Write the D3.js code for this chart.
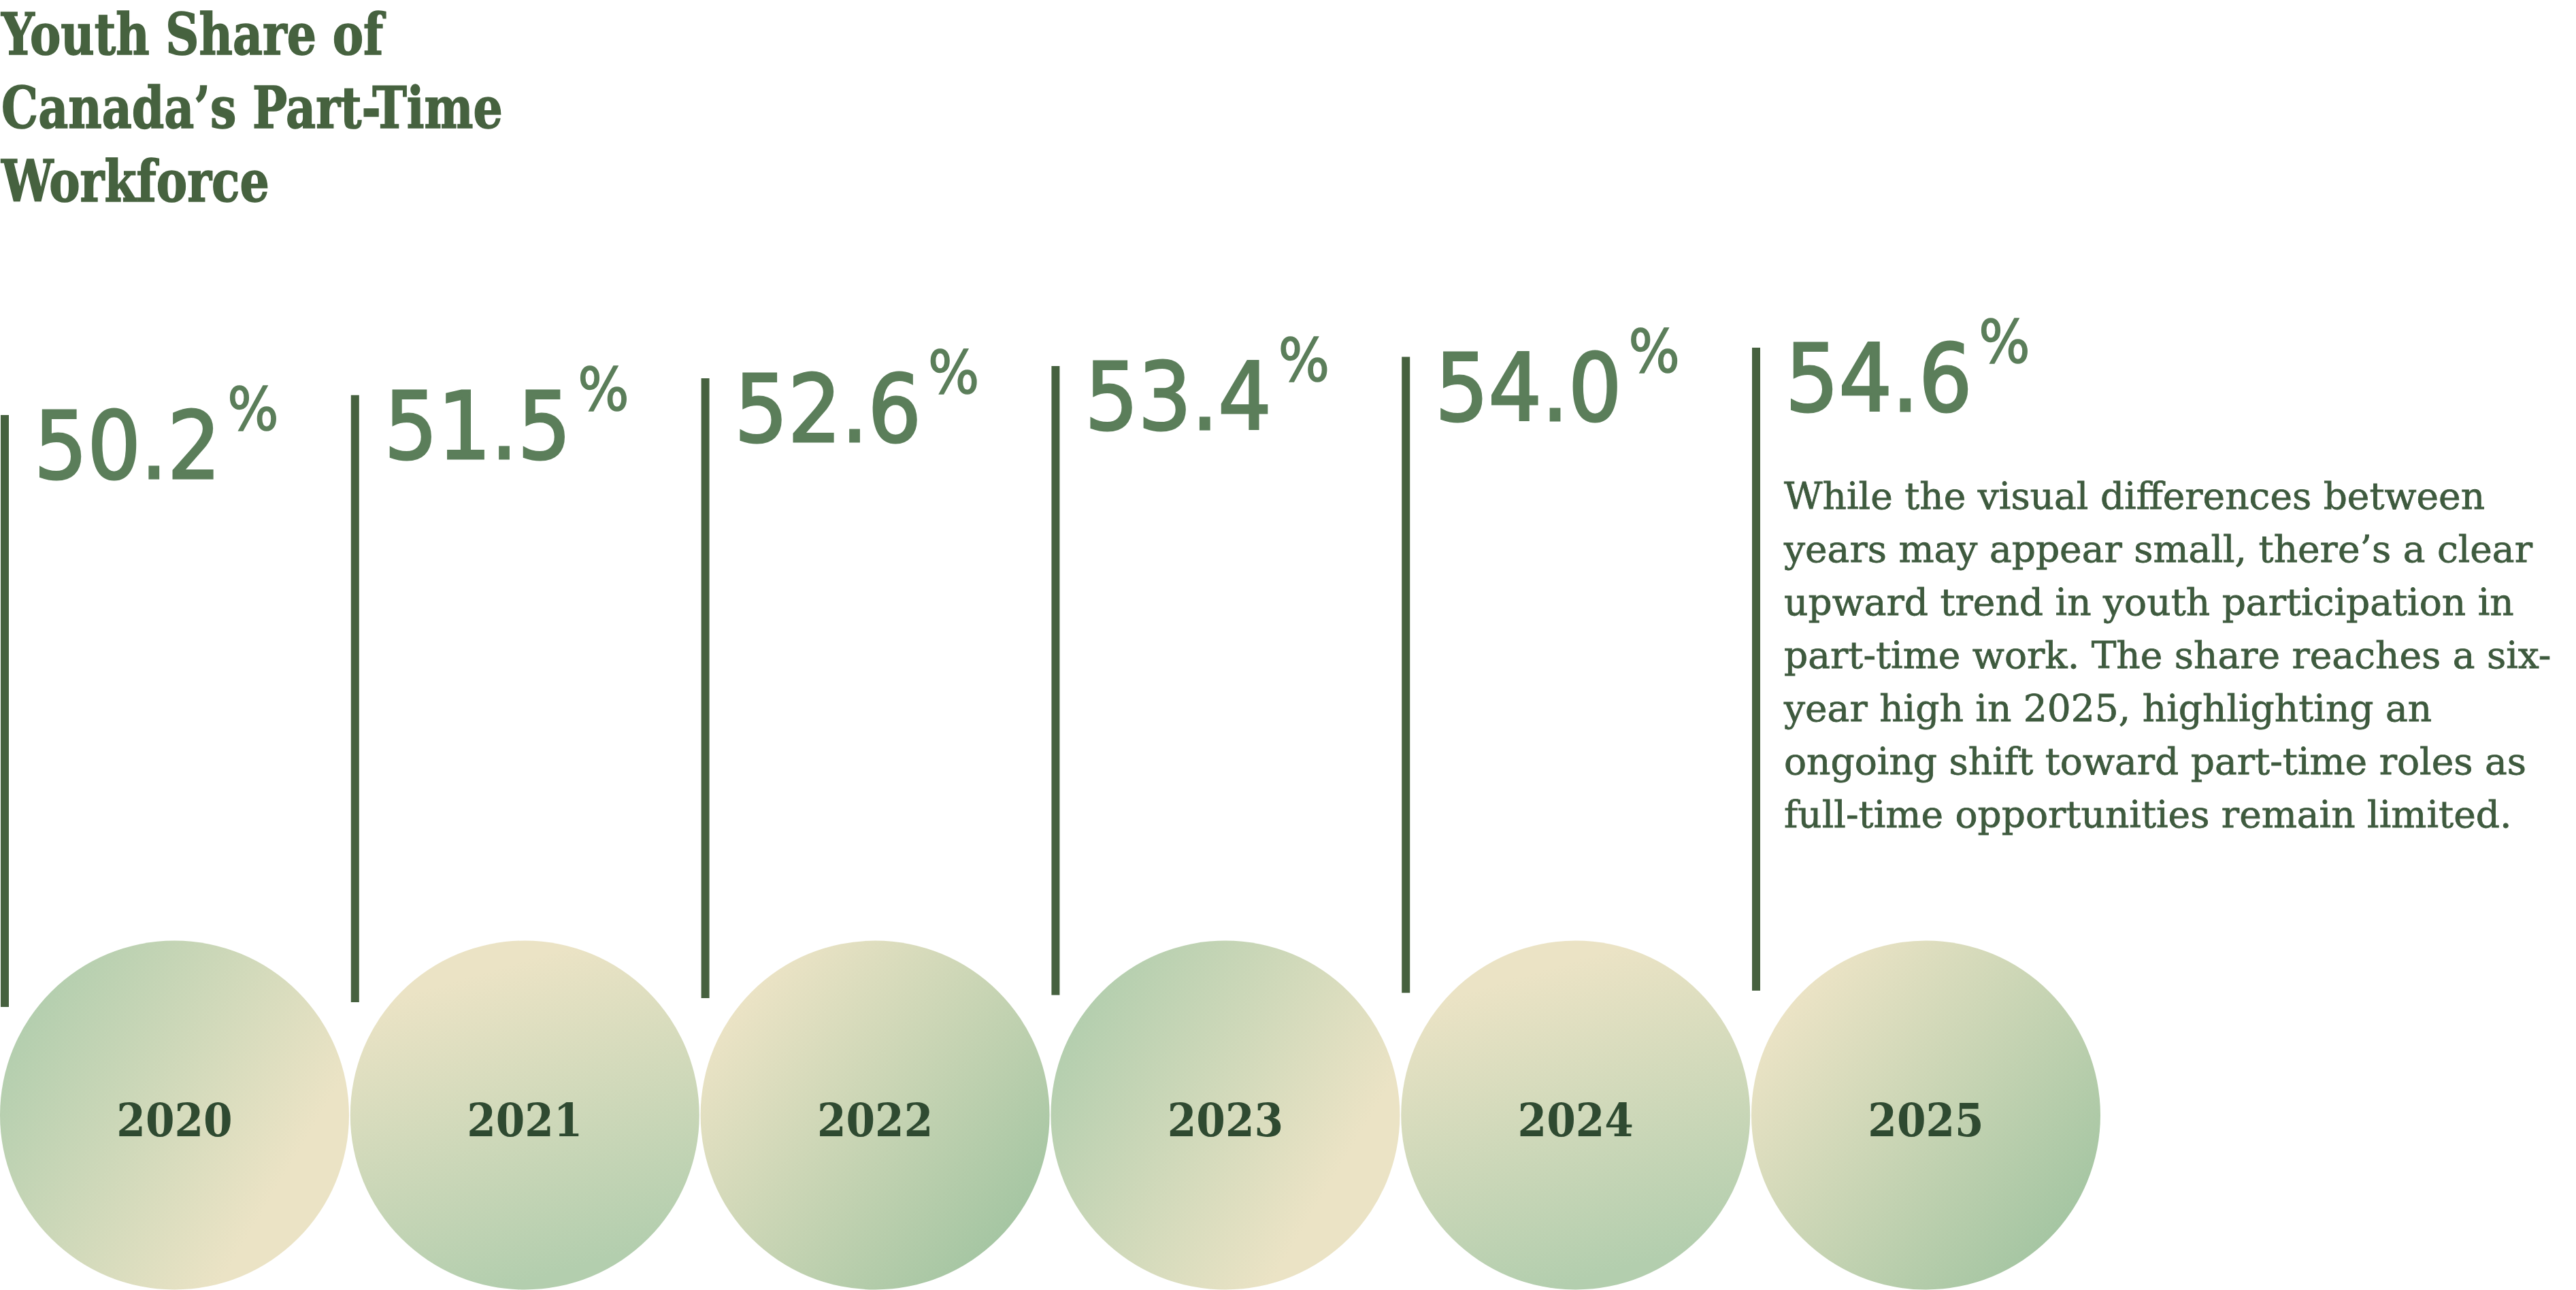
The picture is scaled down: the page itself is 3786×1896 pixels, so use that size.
<!DOCTYPE html>
<html><head><meta charset="utf-8">
<script src="https://cdn.jsdelivr.net/npm/d3@7"></script>
<style>html,body{margin:0;padding:0;background:#fff;} svg{display:block}</style>
</head><body>
<svg id="chart" width="3786" height="1896"></svg>
<script>
// ---- data ----
const years = ["2020", "2021", "2022", "2023", "2024", "2025"];
const shares = [50.2, 51.5, 52.6, 53.4, 54.0, 54.6];
const titleLines = ["Youth Share of", "Canada’s Part-Time", "Workforce"];
const noteLines = [
  "While the visual differences between",
  "years may appear small, there’s a clear",
  "upward trend in youth participation in",
  "part-time work. The share reaches a six-",
  "year high in 2025, highlighting an",
  "ongoing shift toward part-time roles as",
  "full-time opportunities remain limited."
];
const gradientKind = ["a", "b", "c", "a", "b", "c"];

// ---- styles ----
const C = {
  title: "#46623f", line: "#46613f", num: "#5b7e5a", note: "#3e5a3e", year: "#2f4a31",
  cream: "#ebe3c5", green: "#b3ceae", deep: "#a6c6a3"
};
const grads = {
  a: {x1: 0.05, y1: 0.25, x2: 0.8, y2: 0.7, s: C.green, e: C.cream},
  b: {x1: 0.35, y1: 0.1, x2: 0.6, y2: 0.95, s: C.cream, e: C.green},
  c: {x1: 0.1, y1: 0.2, x2: 0.85, y2: 0.85, s: C.cream, e: C.deep}
};

const svg = d3.select("#chart");
const data = years.map((y, i) => ({year: y, value: shares[i], kind: gradientKind[i], i}));

// ---- scales ----
const x = d3.scaleBand().domain(years).range([0, 3087]).paddingInner(0.0035);
const bw = x.bandwidth();
const ext = d3.extent(shares);
const yTop = d3.scaleLinear().domain(ext).range([610, 511]);
const yBot = d3.scaleLinear().domain(ext).range([1480, 1456]);
const cy = 1639;

// gradients
const defs = svg.append("defs");
data.forEach(d => {
  const g = grads[d.kind];
  const lg = defs.append("linearGradient").attr("id", "g" + d.i)
    .attr("x1", g.x1).attr("y1", g.y1).attr("x2", g.x2).attr("y2", g.y2);
  lg.append("stop").attr("offset", 0).attr("stop-color", g.s);
  lg.append("stop").attr("offset", 1).attr("stop-color", g.e);
});

// title
svg.append("g").attr("transform", "translate(2,0) scale(0.9,1)")
  .selectAll("text").data(titleLines).join("text")
  .attr("x", 0).attr("y", (d, i) => 80 + i * 108)
  .attr("font-family", "DejaVu Serif Condensed, DejaVu Serif")
  .attr("font-weight", "bold").attr("font-size", 84)
  .attr("fill", C.title).attr("stroke", C.title).attr("stroke-width", 1.5)
  .text(d => d);

// circles
svg.append("g").selectAll("circle").data(data).join("circle")
  .attr("cx", d => x(d.year) + bw / 2).attr("cy", cy).attr("r", bw / 2)
  .attr("fill", d => `url(#g${d.i})`);

// year labels
svg.append("g").selectAll("text").data(data).join("text")
  .attr("x", d => x(d.year) + bw / 2).attr("y", cy + 31)
  .attr("text-anchor", "middle")
  .attr("font-family", "DejaVu Serif Condensed, DejaVu Serif")
  .attr("font-weight", "bold").attr("font-size", 68)
  .attr("fill", C.year).text(d => d.year);

// vertical lines
svg.append("g").selectAll("line").data(data).join("line")
  .attr("x1", d => x(d.year) + 7).attr("x2", d => x(d.year) + 7)
  .attr("y1", d => yTop(d.value)).attr("y2", d => yBot(d.value))
  .attr("stroke", C.line).attr("stroke-width", 12);

// value labels
const vl = svg.append("g").selectAll("text").data(data).join("text")
  .attr("x", d => x(d.year) + 50).attr("y", d => yTop(d.value) + 93)
  .attr("font-family", "DejaVu Sans Condensed, DejaVu Sans")
  .attr("font-size", 137).attr("fill", C.num)
  .attr("stroke", C.num).attr("stroke-width", 3);
vl.append("tspan").text(d => d3.format(".1f")(d.value));
vl.append("tspan").attr("dx", 10).attr("dy", -71).attr("font-size", 88)
  .attr("stroke-width", 1.5).text("%");

// note
const last = data[data.length - 1];
svg.append("g").selectAll("text").data(noteLines).join("text")
  .attr("x", x(last.year) + 48).attr("y", (d, i) => 748 + i * 78)
  .attr("font-family", "DejaVu Serif")
  .attr("font-size", 55).attr("fill", C.note)
  .attr("stroke", C.note).attr("stroke-width", 0.8)
  .text(d => d);
</script>
</body></html>
